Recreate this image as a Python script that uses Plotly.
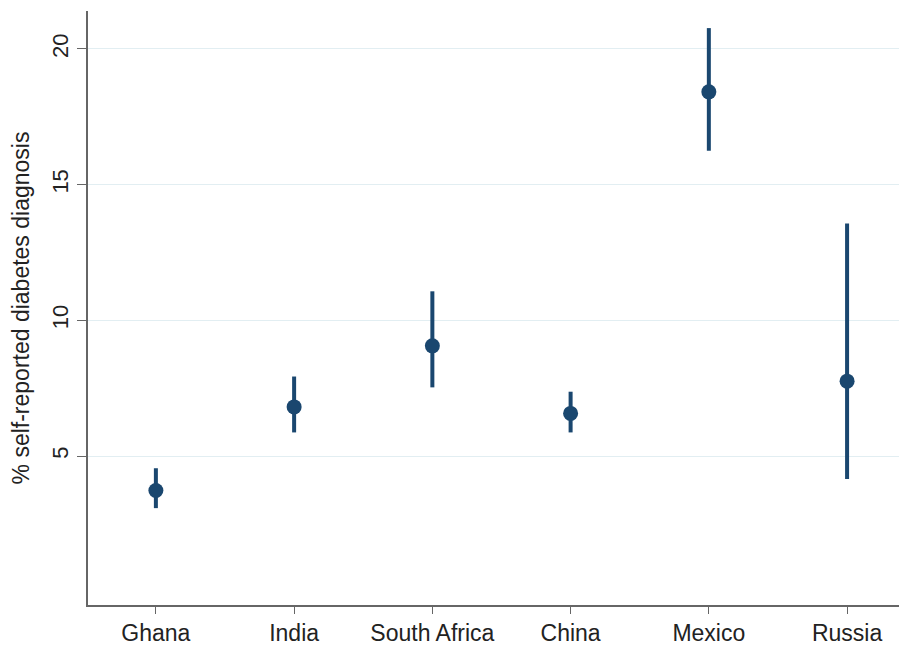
import plotly.graph_objects as go

countries = ["Ghana", "India", "South Africa", "China", "Mexico", "Russia"]
estimate = [3.73, 6.81, 9.06, 6.57, 18.42, 7.76]
ci_lower = [3.08, 5.87, 7.53, 5.87, 16.25, 4.15]
ci_upper = [4.55, 7.93, 11.07, 7.37, 20.77, 13.57]
y_ticks = [5, 10, 15, 20]

navy = "#1a476f"
err_plus = [u - e for u, e in zip(ci_upper, estimate)]
err_minus = [e - l for e, l in zip(estimate, ci_lower)]

fig = go.Figure()
fig.add_trace(go.Scatter(
    x=countries, y=estimate, mode="markers",
    marker=dict(color=navy, size=15, line=dict(width=0)),
    error_y=dict(type="data", symmetric=False, array=err_plus, arrayminus=err_minus,
                 color=navy, thickness=4, width=0),
    showlegend=False,
))

# page body has an 8px margin, so the figure is sized to fit the visible window
fig.update_layout(
    width=899, height=640,
    margin=dict(l=79, r=2, t=3, b=41),
    paper_bgcolor="white", plot_bgcolor="white",
    font=dict(family="Liberation Sans, Arial, sans-serif", color="#222"),
    xaxis=dict(
        type="category", range=[-0.491, 5.419],
        showline=True, linecolor="#666", linewidth=1.5,
        ticks="outside", ticklen=7, tickcolor="#666", tickwidth=1.2,
        showgrid=False, zeroline=False,
        tickfont=dict(size=23, color="#222"),
    ),
    yaxis=dict(
        range=[-0.49, 21.40],
        tickvals=y_ticks, ticktext=[str(v) for v in y_ticks],
        tickangle=-90,
        showline=True, linecolor="#666", linewidth=1.5,
        ticks="outside", ticklen=9, tickcolor="#666", tickwidth=1.2,
        showgrid=True, gridcolor="#e2eef2", gridwidth=1.3,
        zeroline=False,
        tickfont=dict(size=22, color="#222"),
        title=dict(text="% self-reported diabetes diagnosis", font=dict(size=23, color="#222"), standoff=22),
    ),
)

fig.write_html("out.html")
